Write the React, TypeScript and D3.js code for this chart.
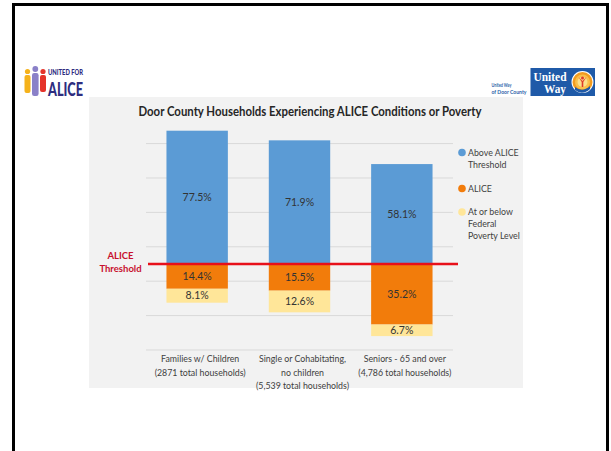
import { scaleBand, scaleLinear } from "d3"

// chart values
const categoryLines = [
  ["Families w/ Children", "(2871 total households)"],
  ["Single or Cohabitating,", "no children", "(5,539 total households)"],
  ["Seniors - 65 and over", "(4,786 total households)"],
]
const aboveAlice = [77.5, 71.9, 58.1]
const alice = [14.4, 15.5, 35.2]
const poverty = [8.1, 12.6, 6.7]
const seriesLines = [["Above ALICE", "Threshold"], ["ALICE"], ["At or below", "Federal", "Poverty Level"]]
const seriesColors = ["#5b9bd5", "#f27c0b", "#ffe699"]
const gridTicks = [-50, -30, -10, 10, 30, 50, 70]
const title = "Door County Households Experiencing ALICE Conditions or Poverty"

const FONT = "Lato, 'Open Sans', sans-serif"

export default function App() {
  let x = scaleBand<number>()
    .domain(categoryLines.map((_, i) => i))
    .range([146, 453])
    .paddingInner(0.4)
    .paddingOuter(0.2)
  let y = scaleLinear().domain([-50, 90]).range([350, 109.2])
  let legendY = scaleLinear().domain([0, 1]).range([152.5, 188.5])

  return (
    <svg
      width={611}
      height={451}
      style={{ position: "absolute", left: 0, top: 0, background: "#fff" }}
    >
      {/* frame */}
      <rect x={13.5} y={4.5} width={594} height={500} fill="none" stroke="#000" strokeWidth={3} />

      {/* United for ALICE logo */}
      <g>
        <circle cx={27.5} cy={71.5} r={2.6} fill="#f5b21b" />
        <rect x={24.5} y={75} width={6} height={18} rx={2} fill="#f5b21b" />
        <circle cx={43} cy={71.5} r={2.6} fill="#e5332a" />
        <rect x={40} y={75} width={6} height={17} rx={2} fill="#e5332a" />
        <circle cx={35.3} cy={69} r={2.9} fill="#8a80c8" />
        <rect x={32} y={73} width={6.6} height={23} rx={2.2} fill="#8a80c8" />
        <text x={48} y={75} fontFamily={FONT} fontWeight={900} fontSize={7}
          fill="#2e2d7f" textLength={35} lengthAdjust="spacingAndGlyphs">UNITED FOR</text>
        <text x={48} y={95.5} fontFamily={FONT} fontWeight={900} fontSize={18}
          fill="#2e2d7f" textLength={35} lengthAdjust="spacingAndGlyphs">ALICE</text>
      </g>

      {/* United Way logo */}
      <g>
        <text x={491.5} y={87} fontFamily={FONT} fontWeight={700} fontSize={5}
          fill="#2b5fa9" textLength={20} lengthAdjust="spacingAndGlyphs">United Way</text>
        <text x={491.5} y={93.5} fontFamily={FONT} fontWeight={700} fontSize={5}
          fill="#2b5fa9" textLength={35} lengthAdjust="spacingAndGlyphs">of Door County</text>
        <rect x={530.5} y={68} width={64.5} height={28} fill="#1f5aa8" />
        <text x={533.5} y={80.5} fontFamily="'Liberation Serif', serif" fontWeight={700}
          fontSize={12} fill="#fff" textLength={33} lengthAdjust="spacingAndGlyphs">United</text>
        <text x={566} y={93} textAnchor="end" fontFamily="'Liberation Serif', serif"
          fontWeight={700} fontSize={12} fill="#fff" textLength={22} lengthAdjust="spacingAndGlyphs">Way</text>
        <circle cx={582.5} cy={82} r={11} fill="#fff" />
        <circle cx={582.5} cy={82} r={10} fill="#f39c1f" />
        <circle cx={582.5} cy={82} r={7.5} fill="#fbbf4a" />
        <circle cx={582.5} cy={82} r={5} fill="#fde08a" />
        <path d="M575 87 Q582.5 93 590 86 L590 89 Q582.5 96 575 90 Z" fill="#1f5aa8" />
        <circle cx={582.5} cy={78} r={1.5} fill="#e03a2a" />
        <path d="M578.5 77 L582.5 81 L586.5 77 L583.3 82 L583.3 87 L581.7 87 L581.7 82 Z" fill="#e03a2a" />
      </g>

      {/* chart panel */}
      <rect x={89} y={97} width={434} height={291} fill="#f2f2f2" />
      <text x={310} y={116} textAnchor="middle" fontFamily={FONT} fontWeight={700}
        fontSize={12.5} fill="#262626" textLength={343} lengthAdjust="spacingAndGlyphs">{title}</text>

      {/* grid lines */}
      {gridTicks.map((t) => (
        <line key={t} x1={146} x2={453} y1={y(t)} y2={y(t)} stroke="#d9d9d9" strokeWidth={1} />
      ))}

      {/* bars */}
      {categoryLines.map((_, i) => {
        let x0 = x(i) ?? 0
        let w = x.bandwidth()
        let cx = x0 + w / 2
        let segs = [
          { from: 0, to: aboveAlice[i], v: aboveAlice[i], c: seriesColors[0] },
          { from: -alice[i], to: 0, v: alice[i], c: seriesColors[1] },
          { from: -alice[i] - poverty[i], to: -alice[i], v: poverty[i], c: seriesColors[2] },
        ]
        return (
          <g key={i}>
            {segs.map((s, j) => (
              <g key={j}>
                <rect x={x0} y={y(s.to)} width={w} height={y(s.from) - y(s.to)} fill={s.c} />
                <text x={cx} y={(y(s.from) + y(s.to)) / 2} dy="0.35em" textAnchor="middle"
                  fontFamily={FONT} fontSize={10.5} fill="#333">
                  {s.v.toFixed(1)}%
                </text>
              </g>
            ))}
          </g>
        )
      })}

      {/* ALICE threshold */}
      <line x1={148} x2={458} y1={y(0)} y2={y(0)} stroke="#e8101a" strokeWidth={2.5} />
      <text x={120.5} y={y(0) - 5} textAnchor="middle" fontFamily={FONT} fontWeight={700}
        fontSize={9.5} fill="#c8102e">ALICE</text>
      <text x={120.5} y={y(0) + 8} textAnchor="middle" fontFamily={FONT} fontWeight={700}
        fontSize={9.5} fill="#c8102e">Threshold</text>

      {/* category labels */}
      {categoryLines.map((lines, i) => (
        <text key={i} textAnchor="middle" fontFamily={FONT} fontSize={8.8} fill="#404040">
          {lines.map((l, k) => (
            <tspan key={k} x={(x(i) ?? 0) + x.bandwidth() / 2 + 3} y={362 + k * 13.5}>{l}</tspan>
          ))}
        </text>
      ))}

      {/* legend */}
      {seriesLines.map((lines, i) => {
        let ly = i === 2 ? legendY(0) + 59.5 : legendY(i)
        return (
          <g key={i}>
            <circle cx={462} cy={ly} r={3.8} fill={seriesColors[i]} />
            <text fontFamily={FONT} fontSize={8.8} fill="#404040">
              {lines.map((l, k) => (
                <tspan key={k} x={468} y={ly + 3 + k * 12.2}>{l}</tspan>
              ))}
            </text>
          </g>
        )
      })}
    </svg>
  )
}
